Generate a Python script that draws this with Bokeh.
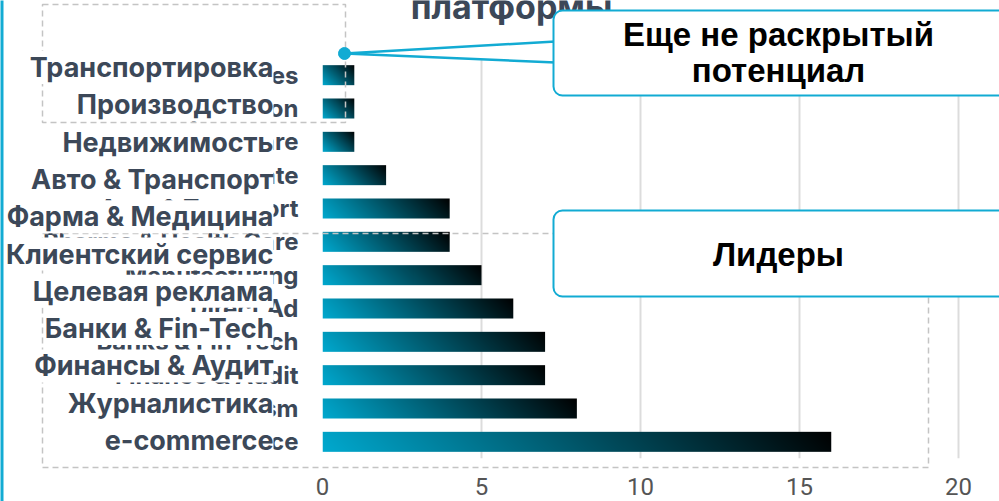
import numpy as np
from bokeh.plotting import figure
from bokeh.models import (Range1d, FixedTicker, BoxAnnotation, Label, PolyAnnotation,
                          ColumnDataSource, GridBox)
from bokeh.embed import file_html
from bokeh.resources import INLINE

# ---- data ----
categories = ["Utilities", "Transportation", "Customer Care", "Real Estate", "Auto & Transport",
              "Pharma & Health Care", "Manufacturing", "Direct Ad", "Banks & Fin-Tech",
              "Finance & Audit", "Journalism", "e-commerce"]
values = [1, 1, 1, 2, 4, 4, 5, 6, 7, 7, 8, 16]
ru_labels = ["Транспортировка", "Производство", "Недвижимость", "Авто & Транспорт",
             "Фарма & Медицина", "Клиентский сервис", "Целевая реклама", "Банки & Fin-Tech",
             "Финансы & Аудит", "Журналистика", "e-commerce"]
x_ticks = [0, 5, 10, 15, 20]
title_text = "платформы"
callout_top = ["Еще не раскрытый", "потенциал"]
callout_bottom = "Лидеры"

# ---- layout / style ----
W, H = 999, 501
FL, FR, FT, FB = 322, 977, 58, 458
X_END = 20.6
n = len(categories)
TEXT = "#3c4858"
CYAN = "#12abd3"
BAR_CYAN = np.array([0, 169, 207], dtype=float)
DASH = "#c4c4c4"

# ---------------- chart figure ----------------
p = figure(width=W, height=H, output_backend="svg", toolbar_location=None,
           x_range=Range1d(0, X_END), y_range=Range1d(-0.5, n - 0.5),
           min_border_left=FL, min_border_right=W - FR, min_border_top=FT,
           min_border_bottom=H - FB, margin=0, frame_align=False)
p.outline_line_color = None
p.background_fill_color = "white"
p.border_fill_color = "white"

p.ygrid.grid_line_color = None
p.xgrid.grid_line_color = "#dcdcdc"
p.xgrid.grid_line_width = 2
p.xgrid.ticker = FixedTicker(ticks=x_ticks)

p.xaxis.ticker = FixedTicker(ticks=x_ticks)
p.xaxis.axis_line_color = None
p.xaxis.major_tick_line_color = None
p.xaxis.minor_tick_line_color = None
p.xaxis.major_label_standoff = 13
p.xaxis.major_label_text_font = "Roboto"
p.xaxis.major_label_text_font_size = "24px"
p.xaxis.major_label_text_color = "#555555"

p.yaxis.ticker = FixedTicker(ticks=list(range(n)))
p.yaxis.major_label_overrides = {n - 1 - i: c for i, c in enumerate(categories)}
p.yaxis.axis_line_color = None
p.yaxis.major_tick_line_color = None
p.yaxis.minor_tick_line_color = None
p.yaxis.major_label_standoff = 18
p.yaxis.major_label_text_font = "Inter"
p.yaxis.major_label_text_font_style = "bold"
p.yaxis.major_label_text_font_size = "24px"
p.yaxis.major_label_text_color = TEXT

# gradient bars: one image per bar, placed and sized by its value
px_per_unit = (FR - FL) / X_END
bar_h = 0.6
h_px = int(round(bar_h * (FB - FT) / n))
imgs, ys = [], []
for i, v in enumerate(values):
    w_px = max(1, int(round(v * px_per_unit)))
    xx = np.arange(w_px) + 0.5
    yy = np.arange(h_px) + 0.5
    t = (xx[None, :] + yy[:, None]) / (w_px + h_px)
    rgb = (BAR_CYAN[None, None, :] * (1 - t)[:, :, None]).round().astype(np.uint8)
    img = np.empty((h_px, w_px), dtype=np.uint32)
    view = img.view(dtype=np.uint8).reshape((h_px, w_px, 4))
    view[..., :3] = rgb
    view[..., 3] = 255
    imgs.append(img)
    ys.append(n - 1 - i - bar_h / 2)
src = ColumnDataSource(dict(image=imgs, x=[0] * n, y=ys, dw=values, dh=[bar_h] * n))
p.image_rgba(image="image", x="x", y="y", dw="dw", dh="dh", source=src)

# ---------------- transparent overlay (pixel coordinates) ----------------
o = figure(width=W, height=H, output_backend="svg", toolbar_location=None,
           x_range=Range1d(0, W), y_range=Range1d(H, 0),
           x_axis_location=None, y_axis_location=None, min_border=0, margin=0,
           frame_align=False)
o.grid.visible = False
o.outline_line_color = None
o.background_fill_alpha = 0
o.border_fill_alpha = 0

o.add_layout(BoxAnnotation(left=-10, right=3, top=-10, bottom=H + 10, fill_color=CYAN,
                           fill_alpha=1, line_color=None))

for l, r, t, b in [(42, 345, 4, 122), (42, 928, 233, 467)]:
    o.add_layout(BoxAnnotation(left=l, right=r, top=t, bottom=b, fill_alpha=0,
                               line_color=DASH, line_alpha=1, line_width=1.5,
                               line_dash="6 4"))

ru_first, ru_step = 67, 37.3
for i, t in enumerate(ru_labels):
    o.add_layout(Label(x=273, y=ru_first + i * ru_step, text=t, text_align="right",
                       text_baseline="alphabetic", text_font="Inter", text_font_style="bold",
                       text_font_size="27px", text_color=TEXT,
                       background_fill_color="white", background_fill_alpha=1))

o.add_layout(Label(x=511, y=6, text=title_text, text_align="center", text_baseline="alphabetic",
                   text_font="Inter", text_font_style="bold", text_font_size="34px",
                   text_color=TEXT))

o.add_layout(PolyAnnotation(xs=[344, 555, 555], ys=[53, 41, 62], fill_color="white",
                            fill_alpha=1, line_color=CYAN, line_alpha=1, line_width=2.5))
o.add_layout(BoxAnnotation(left=338, right=350, top=47, bottom=59, border_radius=6,
                           fill_color=CYAN, fill_alpha=1, line_color=CYAN, line_alpha=1))

for top, bottom in [(10, 95), (210, 296)]:
    o.add_layout(BoxAnnotation(left=553, right=1015, top=top, bottom=bottom, border_radius=9,
                               fill_color="white", fill_alpha=1, line_color=CYAN,
                               line_alpha=1, line_width=2))

for txt, yb in zip(callout_top, [34, 70]):
    o.add_layout(Label(x=778, y=yb, text=txt, text_align="center", text_baseline="alphabetic",
                       text_font="Liberation Sans", text_font_style="bold",
                       text_font_size="33px", text_color="black"))
o.add_layout(Label(x=778, y=254, text=callout_bottom, text_align="center",
                   text_baseline="alphabetic", text_font="Liberation Sans",
                   text_font_style="bold", text_font_size="33px", text_color="black"))

layout = GridBox(children=[(p, 0, 0), (o, 0, 0)], margin=0)
open("out.html", "w").write(file_html(layout, INLINE))
